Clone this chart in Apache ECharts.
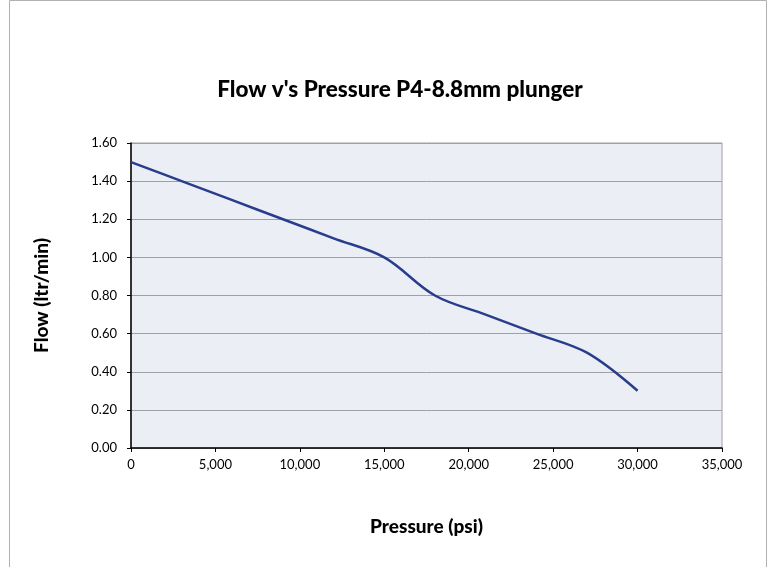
<!DOCTYPE html>
<html><head><meta charset="utf-8">
<script src="https://cdn.jsdelivr.net/npm/echarts@6/dist/echarts.min.js"></script>
<style>html,body{margin:0;padding:0;background:#fff}#c{width:770px;height:567px}</style>
</head><body><div id="c"></div>
<script>
var pressure = [0, 3000, 6000, 9000, 12000, 15000, 18000, 21000, 24000, 27000, 30000];
var flow = [1.50, 1.40, 1.30, 1.20, 1.10, 1.00, 0.80, 0.70, 0.60, 0.50, 0.30];
var titleText = "Flow v's Pressure P4-8.8mm plunger";
var xName = "Pressure (psi)";
var yName = "Flow (ltr/min)";

var chart = echarts.init(document.getElementById('c'));
var F = 'Lato, "Open Sans", sans-serif';
chart.setOption({
  animation: false,
  graphic: [{type:'rect', shape:{x:9.5,y:0.5,width:757,height:600}, style:{fill:'none', stroke:'#b0b0b0', lineWidth:1}, z:-10}],
  title: {text: titleText, left: 395, top: 73, textAlign: 'center',
    textStyle: {fontFamily: F, fontWeight: 900, fontSize: 22.5, color: '#000'}},
  grid: {left: 131, right: 48, top: 143, bottom: 119, show: true, backgroundColor: '#eceef6', borderColor: '#a0a0a0', borderWidth: 1},
  xAxis: {type: 'value', min: 0, max: 35000, interval: 5000,
    name: xName, nameLocation: 'middle', nameGap: 69,
    nameTextStyle: {fontFamily: F, fontWeight: 900, fontSize: 19, color: '#000'},
    axisLine: {show: true, lineStyle: {color: '#000', width: 1.5}},
    axisTick: {show: true, length: 4, lineStyle: {color: '#000'}},
    axisLabel: {fontFamily: F, fontSize: 13, color: '#000', margin: 10,
      formatter: function(v){ return v.toLocaleString('en-US'); }},
    splitLine: {show: false}},
  yAxis: {type: 'value', min: 0, max: 1.6, interval: 0.2,
    name: yName, nameLocation: 'middle', nameGap: 80, nameRotate: 90,
    nameTextStyle: {fontFamily: F, fontWeight: 900, fontSize: 19, color: '#000'},
    axisLine: {show: true, lineStyle: {color: '#000', width: 1.5}},
    axisTick: {show: true, length: 4, lineStyle: {color: '#000'}},
    axisLabel: {fontFamily: F, fontSize: 13, color: '#000', margin: 14,
      formatter: function(v){ return v.toFixed(2); }},
    splitLine: {show: true, lineStyle: {color: '#a0a0a0', width: 1}}},
  series: [{type: 'line', data: pressure.map(function(p,i){return [p, flow[i]];}),
    smooth: 0.35, showSymbol: false, lineStyle: {color: '#283e8c', width: 2.5}}]
});
</script></body></html>
